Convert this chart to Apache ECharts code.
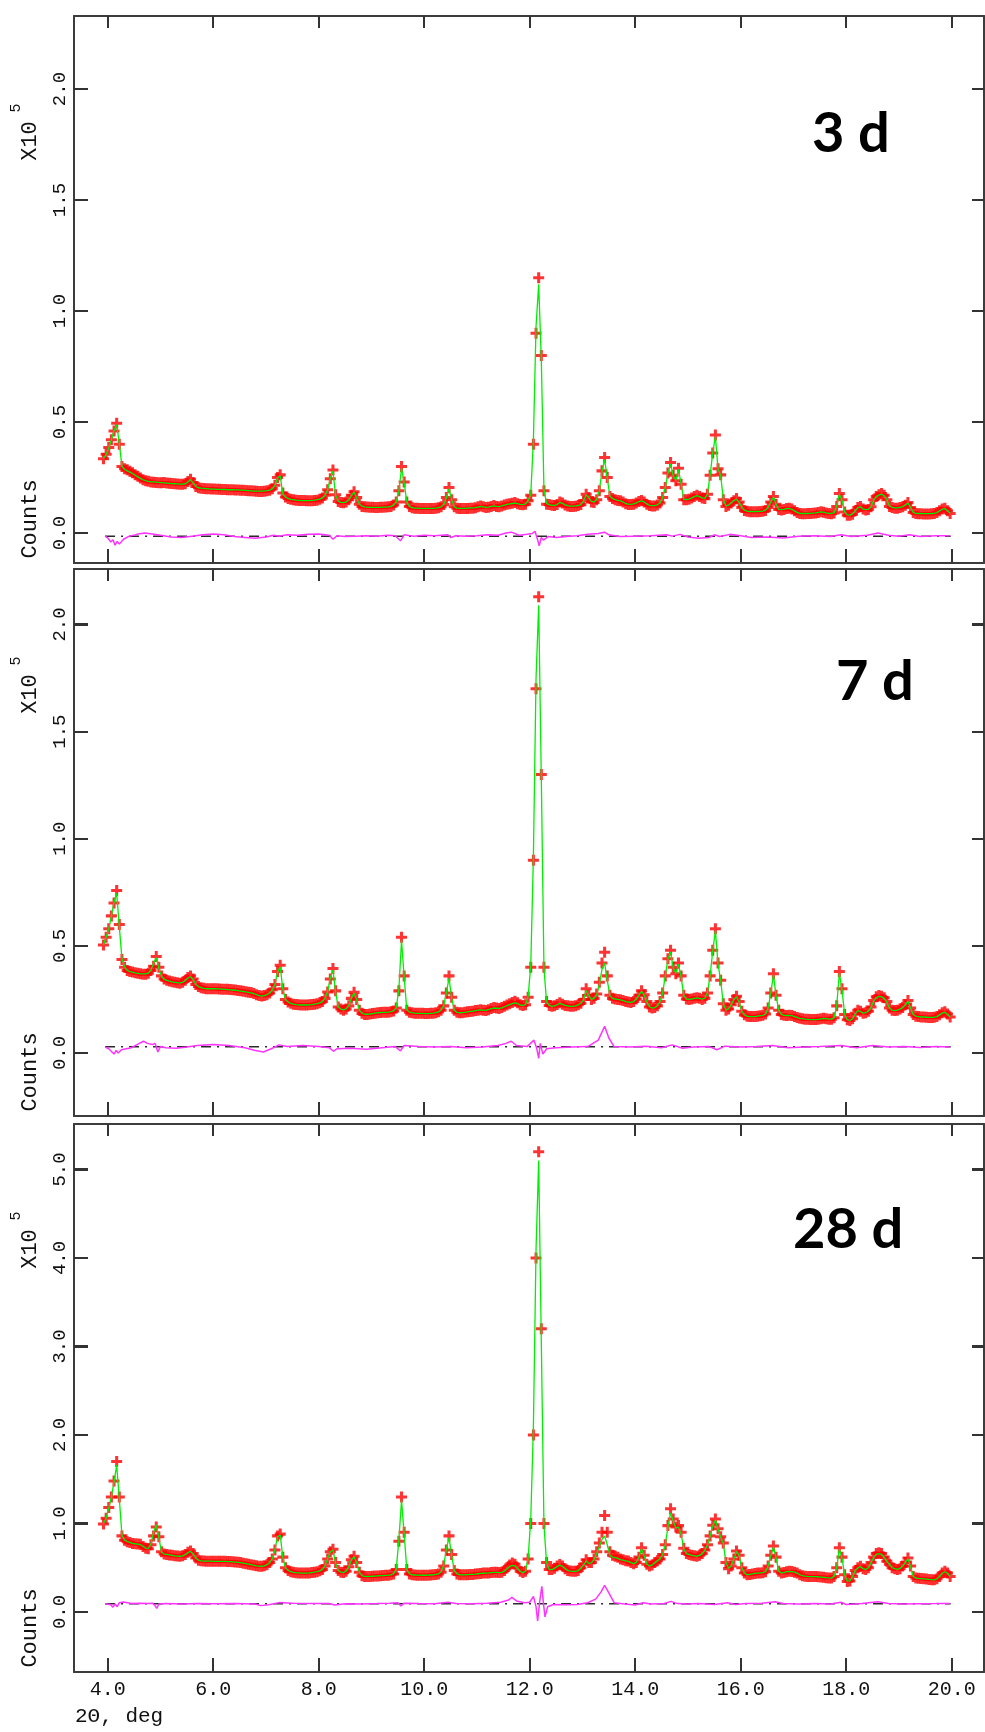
<!DOCTYPE html>
<html><head><meta charset="utf-8">
<script src="https://cdn.jsdelivr.net/npm/echarts@6/dist/echarts.min.js"></script>
<style>html,body{margin:0;padding:0;background:#fff}#c{width:985px;height:1732px}</style>
</head><body><div id="c"></div>
<script>
// 2-theta sampling positions (deg)
const twoTheta = [
3.92,3.97,4.02,4.07,4.12,4.17,4.22,4.27,4.32,4.37,
4.42,4.47,4.52,4.57,4.62,4.67,4.72,4.77,4.82,4.87,
4.92,4.97,5.02,5.07,5.12,5.17,5.22,5.27,5.32,5.37,
5.42,5.47,5.52,5.57,5.62,5.67,5.72,5.77,5.82,5.87,
5.92,5.97,6.02,6.07,6.12,6.17,6.22,6.27,6.32,6.37,
6.42,6.47,6.52,6.57,6.62,6.67,6.72,6.77,6.82,6.87,
6.92,6.97,7.02,7.07,7.12,7.17,7.22,7.27,7.32,7.37,
7.42,7.47,7.52,7.57,7.62,7.67,7.72,7.77,7.82,7.87,
7.92,7.97,8.02,8.07,8.12,8.17,8.22,8.27,8.32,8.37,
8.42,8.47,8.52,8.57,8.62,8.67,8.72,8.77,8.82,8.87,
8.92,8.97,9.02,9.07,9.12,9.17,9.22,9.27,9.32,9.37,
9.42,9.47,9.52,9.57,9.62,9.67,9.72,9.77,9.82,9.87,
9.92,9.97,10.02,10.07,10.12,10.17,10.22,10.27,10.32,10.37,
10.42,10.47,10.52,10.57,10.62,10.67,10.72,10.77,10.82,10.87,
10.92,10.97,11.02,11.07,11.12,11.17,11.22,11.27,11.32,11.37,
11.42,11.47,11.52,11.57,11.62,11.67,11.72,11.77,11.82,11.87,
11.92,11.97,12.02,12.07,12.12,12.17,12.22,12.27,12.32,12.37,
12.42,12.47,12.52,12.57,12.62,12.67,12.72,12.77,12.82,12.87,
12.92,12.97,13.02,13.07,13.12,13.17,13.22,13.27,13.32,13.37,
13.42,13.47,13.52,13.57,13.62,13.67,13.72,13.77,13.82,13.87,
13.92,13.97,14.02,14.07,14.12,14.17,14.22,14.27,14.32,14.37,
14.42,14.47,14.52,14.57,14.62,14.67,14.72,14.77,14.82,14.87,
14.92,14.97,15.02,15.07,15.12,15.17,15.22,15.27,15.32,15.37,
15.42,15.47,15.52,15.57,15.62,15.67,15.72,15.77,15.82,15.87,
15.92,15.97,16.02,16.07,16.12,16.17,16.22,16.27,16.32,16.37,
16.42,16.47,16.52,16.57,16.62,16.67,16.72,16.77,16.82,16.87,
16.92,16.97,17.02,17.07,17.12,17.17,17.22,17.27,17.32,17.37,
17.42,17.47,17.52,17.57,17.62,17.67,17.72,17.77,17.82,17.87,
17.92,17.97,18.02,18.07,18.12,18.17,18.22,18.27,18.32,18.37,
18.42,18.47,18.52,18.57,18.62,18.67,18.72,18.77,18.82,18.87,
18.92,18.97,19.02,19.07,19.12,19.17,19.22,19.27,19.32,19.37,
19.42,19.47,19.52,19.57,19.62,19.67,19.72,19.77,19.82,19.87,
19.92,19.97];

// Counts in units of 100 (axis shows x10^5)
const obs3d = [
335,355,385,420,460,495,400,300,290,285,
278,272,262,256,248,240,236,233,230,229,
228,227,226,228,225,224,223,222,221,220,
220,222,232,242,228,210,204,202,201,200,
199,198,198,197,197,196,196,195,195,195,
194,194,193,193,192,191,190,189,188,187,
187,188,190,193,200,215,250,262,180,162,
156,152,150,148,147,146,146,145,145,145,
146,148,152,158,170,195,245,284,172,142,
138,136,140,150,170,186,160,130,120,118,
117,116,116,115,115,116,116,117,118,120,
126,140,190,300,230,140,120,114,112,112,
111,111,110,110,110,111,112,114,118,128,
160,205,150,118,112,110,110,110,111,112,
112,114,118,122,118,115,116,120,124,120,
118,122,126,130,132,134,137,132,128,127,
130,145,170,400,900,1150,800,190,130,128,
125,124,128,140,135,126,122,120,120,121,
124,128,145,175,160,140,138,150,190,280,
340,250,165,155,150,147,145,140,132,129,
128,130,135,142,146,140,130,124,122,122,
126,135,160,205,270,318,260,236,292,220,
150,150,152,158,165,170,165,158,155,175,
260,360,442,290,262,150,120,125,135,145,
155,140,115,102,98,96,96,96,96,97,
98,102,115,140,165,130,106,104,106,110,
112,108,100,92,88,87,87,88,88,89,
90,92,96,94,90,88,87,90,120,178,
150,95,80,80,85,100,115,120,108,104,
106,118,150,165,172,178,170,150,120,115,
112,112,115,118,125,137,115,92,88,87,
87,86,86,86,87,88,92,100,108,112,
100,88];
const calc3d = [
336,354,384,420,462,488,405,300,286,280,
274,268,260,253,246,240,236,233,231,230,
229,228,227,226,225,224,223,222,221,220,
220,222,230,240,226,210,204,202,201,200,
199,198,198,197,197,196,196,195,195,195,
194,194,193,193,192,191,190,189,189,189,
189,190,191,193,199,214,248,258,176,162,
156,152,150,148,147,146,146,146,146,147,
148,150,153,158,170,196,246,280,170,144,
138,137,140,150,168,184,158,131,121,118,
117,116,116,116,116,116,117,117,118,120,
126,140,190,292,226,140,120,114,112,112,
111,111,111,111,111,111,112,114,118,128,
158,200,150,118,112,111,111,111,112,113,
113,114,117,120,118,116,117,120,122,120,
119,122,126,129,131,133,135,132,129,128,
131,146,175,420,930,1120,780,195,132,128,
125,125,128,138,134,127,123,121,121,122,
124,128,144,172,160,142,140,152,192,278,
330,248,166,156,150,147,145,140,133,130,
129,131,136,142,145,140,131,125,123,123,
127,136,160,205,268,312,258,238,288,222,
152,151,153,158,164,168,164,158,156,176,
262,362,435,288,260,152,122,126,136,146,
152,138,116,103,99,97,97,97,97,98,
99,103,116,140,162,130,107,105,107,110,
111,107,100,93,89,88,88,88,89,90,
91,93,95,94,91,89,88,91,122,174,
148,96,82,81,86,100,114,118,108,105,
107,118,148,164,171,175,168,150,122,116,
113,113,116,119,126,135,115,93,89,88,
88,87,87,87,88,89,92,100,107,110,
100,89];
const obs7d = [
504,540,580,640,700,758,600,436,400,385,
380,378,375,372,370,368,368,372,385,405,
450,400,360,345,340,336,332,330,328,326,
330,340,352,360,345,320,310,305,302,300,
300,300,300,300,299,298,298,297,296,295,
294,292,290,288,286,284,282,278,272,268,
266,268,272,280,295,320,380,410,300,250,
238,232,228,226,225,224,224,224,225,226,
228,230,234,240,255,285,345,394,290,215,
205,200,205,220,255,283,250,200,185,180,
180,182,184,186,188,189,190,190,190,192,
196,210,290,540,360,200,190,188,186,185,
185,185,184,184,185,186,188,192,200,220,
280,360,260,200,190,188,188,190,192,194,
195,198,200,202,200,198,202,208,212,210,
208,212,218,224,230,236,242,235,225,222,
225,260,400,900,1700,2130,1300,400,240,222,
218,220,226,234,228,222,220,218,218,220,
225,232,250,300,270,250,255,275,330,420,
470,360,270,255,252,250,248,245,240,238,
236,240,252,270,290,272,240,215,210,212,
220,240,280,360,440,480,400,370,420,360,
270,252,250,252,256,258,255,250,255,280,
360,480,580,420,340,230,200,205,225,250,
265,240,195,178,172,170,170,170,172,174,
176,182,210,280,370,270,200,180,176,175,
176,175,170,166,162,160,158,157,156,156,
156,157,160,162,160,158,158,165,220,380,
300,180,155,152,160,185,200,195,185,188,
195,215,245,262,268,265,258,240,210,200,
198,200,205,212,225,245,210,180,172,170,
168,168,167,166,166,167,170,178,188,192,
182,168];
const calc7d = [
505,540,580,638,705,745,590,440,402,386,
380,377,374,372,370,369,369,373,388,420,
445,395,358,344,339,335,332,330,328,327,
330,338,350,356,343,320,310,305,302,300,
300,300,300,299,299,298,297,296,295,294,
293,291,289,287,285,283,281,277,272,268,
266,268,272,280,294,320,378,402,298,250,
238,232,228,226,225,224,224,224,225,226,
228,230,234,240,256,288,350,388,285,215,
205,201,206,222,256,280,248,200,186,181,
181,182,184,186,188,189,190,190,191,193,
197,212,300,525,355,202,191,188,186,185,
185,185,184,184,185,186,188,192,201,222,
282,350,255,200,190,188,188,190,192,194,
195,198,200,201,200,199,202,207,210,209,
208,211,216,221,226,230,234,230,224,222,
226,262,410,920,1750,2090,1280,395,238,222,
218,220,225,232,227,222,220,218,218,220,
225,232,248,292,268,250,255,272,318,390,
420,340,268,255,252,250,248,245,240,238,
236,240,252,270,288,270,240,216,210,212,
220,240,280,360,438,472,398,372,415,355,
270,252,250,252,255,257,255,251,256,282,
362,478,570,415,338,230,201,206,226,250,
262,238,196,178,172,170,170,170,172,174,
176,182,210,280,365,268,200,180,176,175,
176,174,170,166,162,160,158,157,156,156,
156,157,159,161,160,158,158,165,222,372,
296,180,156,152,160,183,198,194,186,189,
195,213,242,258,264,262,255,238,210,200,
198,200,205,212,224,242,210,180,172,170,
168,168,167,166,166,167,170,178,186,190,
181,168];
const obs28d = [
995,1060,1180,1300,1480,1700,1300,860,810,795,
785,775,770,768,765,740,720,715,760,860,
960,850,680,655,650,645,640,635,632,630,
635,650,675,690,660,610,585,578,575,574,
574,574,574,573,573,572,572,571,570,568,
565,562,558,552,546,540,535,528,522,518,
517,522,535,560,600,700,860,880,620,500,
470,455,448,444,442,440,440,440,442,446,
450,455,465,480,520,600,680,708,560,470,
450,445,460,510,590,630,560,450,410,400,
400,402,404,406,408,410,412,414,416,420,
430,480,800,1300,900,480,430,420,418,416,
416,415,415,416,418,420,424,430,450,520,
700,860,650,470,430,420,420,420,422,424,
425,428,432,436,440,440,442,446,450,448,
446,450,470,500,530,555,540,500,460,445,
460,600,1000,2000,4000,5200,3200,1000,560,480,
480,495,520,536,520,490,470,462,460,460,
470,500,540,590,560,560,600,680,780,900,
1090,900,680,640,630,620,600,590,580,575,
560,545,560,620,727,640,540,520,530,560,
580,600,650,760,976,1167,1050,960,976,900,
720,660,650,640,635,630,640,660,700,760,
860,980,1050,940,850,780,560,490,520,600,
690,640,500,440,420,425,430,436,440,442,
444,455,520,640,746,620,460,440,445,455,
460,458,450,440,420,410,405,402,400,400,
400,398,395,392,388,385,383,400,500,727,
620,420,345,350,400,470,500,517,490,480,
500,560,620,660,670,660,620,574,540,500,
490,480,490,520,560,610,520,400,383,380,
378,375,372,368,365,364,375,400,440,460,
440,400];
const calc28d = [
1000,1060,1175,1300,1470,1660,1280,870,812,796,
786,776,771,768,762,742,722,718,770,900,
985,840,675,655,650,645,640,635,632,630,
634,648,670,684,656,610,586,578,575,574,
574,574,573,573,572,572,571,570,569,567,
564,561,557,552,546,540,534,528,522,518,
517,522,535,560,600,705,850,870,615,500,
470,455,448,444,442,440,440,440,442,446,
450,455,465,482,525,605,680,700,555,470,
450,446,462,512,588,625,555,450,412,402,
401,402,404,406,408,410,412,414,416,420,
432,485,820,1260,880,480,432,420,418,416,
416,415,415,416,418,420,424,432,455,528,
710,840,640,470,430,421,420,420,422,424,
425,428,432,436,438,440,442,445,448,447,
445,448,462,488,512,528,520,492,458,445,
462,610,1050,2100,4100,5100,3050,980,555,480,
478,492,515,530,516,488,470,462,460,460,
468,495,530,575,550,555,592,660,740,820,
860,760,640,620,615,605,592,585,578,572,
558,546,560,618,715,635,540,520,530,558,
578,600,650,760,960,1120,1030,950,960,880,
715,660,650,640,635,630,640,660,698,760,
855,975,1040,935,845,775,560,495,522,600,
684,636,500,442,421,425,430,436,440,442,
444,455,520,635,735,615,462,440,445,455,
460,457,450,440,421,410,405,402,400,400,
400,398,395,392,388,385,383,402,505,710,
610,422,348,352,402,468,498,512,490,480,
500,558,615,652,660,650,615,572,540,500,
490,482,492,522,560,600,515,402,384,380,
378,375,372,368,365,364,375,400,438,455,
438,400];

// difference curves (obs - calc, shown with an offset), [2theta, counts/100]
const diff3d = [[3.95,-14],[4.0,-22],[4.06,-40],[4.1,-30],[4.14,-55],[4.18,-38],[4.22,-50],[4.3,-28],[4.4,-15],[4.55,-6],[4.7,0],[4.85,-4],[5.0,-10],[5.2,-18],[5.4,-20],[5.6,-14],[5.8,-8],[6.0,-4],[6.2,-8],[6.4,-16],[6.6,-20],[6.8,-24],[7.0,-18],[7.15,-10],[7.25,-14],[7.4,-8],[7.6,-10],[7.8,-6],[8.0,-4],[8.2,-10],[8.27,-28],[8.35,-12],[8.5,-16],[8.7,-14],[8.9,-12],[9.1,-14],[9.3,-10],[9.45,-12],[9.55,-35],[9.62,-8],[9.8,-14],[10.0,-10],[10.2,-12],[10.45,-8],[10.5,-20],[10.6,-12],[10.8,-14],[11.0,-12],[11.2,-8],[11.4,-10],[11.55,0],[11.65,4],[11.8,-10],[11.95,-6],[12.05,-2],[12.1,8],[12.15,-30],[12.18,-58],[12.22,-20],[12.26,-32],[12.35,-16],[12.5,-20],[12.7,-16],[12.9,-12],[13.1,-6],[13.3,-2],[13.42,4],[13.5,-8],[13.7,-16],[14.0,-14],[14.3,-12],[14.6,-8],[14.7,-14],[14.85,-6],[15.0,-18],[15.2,-24],[15.4,-20],[15.5,-8],[15.6,-16],[15.8,-6],[16.0,-12],[16.2,-20],[16.5,-18],[16.8,-22],[17.1,-14],[17.4,-12],[17.7,-16],[17.9,-8],[18.1,-16],[18.4,-10],[18.6,0],[18.8,-10],[19.0,-14],[19.2,-8],[19.4,-16],[19.7,-12],[19.97,-12]];
const diff7d = [[3.95,28],[4.02,20],[4.08,5],[4.12,-5],[4.16,12],[4.2,0],[4.26,15],[4.35,20],[4.45,25],[4.6,45],[4.68,55],[4.75,45],[4.85,40],[4.9,45],[4.95,5],[5.0,30],[5.1,25],[5.3,22],[5.5,28],[5.7,35],[6.0,40],[6.3,35],[6.6,25],[6.8,12],[6.95,5],[7.1,20],[7.25,38],[7.4,30],[7.7,35],[8.0,30],[8.2,25],[8.28,8],[8.35,20],[8.6,22],[8.9,18],[9.2,25],[9.45,30],[9.55,10],[9.62,35],[9.9,30],[10.2,28],[10.5,30],[10.8,25],[11.1,28],[11.4,35],[11.55,45],[11.65,55],[11.75,35],[11.95,30],[12.08,60],[12.13,25],[12.17,-25],[12.2,45],[12.25,-5],[12.32,20],[12.5,25],[12.8,28],[13.1,30],[13.3,60],[13.42,125],[13.5,70],[13.6,30],[13.9,28],[14.2,32],[14.5,25],[14.7,38],[14.9,22],[15.1,28],[15.4,30],[15.55,15],[15.7,32],[16.0,28],[16.3,30],[16.6,35],[16.9,25],[17.2,28],[17.5,30],[17.9,35],[18.2,25],[18.5,35],[18.8,28],[19.1,30],[19.4,26],[19.7,30],[19.97,28]];
const diff28d = [[3.95,92],[4.05,85],[4.1,55],[4.14,90],[4.18,60],[4.22,105],[4.3,112],[4.45,95],[4.6,100],[4.75,95],[4.85,100],[4.9,70],[4.93,40],[4.97,90],[5.1,95],[5.4,90],[5.7,95],[6.0,92],[6.4,96],[6.8,90],[6.9,72],[7.05,82],[7.25,106],[7.5,100],[7.9,95],[8.2,97],[8.3,80],[8.5,93],[8.8,90],[9.1,95],[9.35,100],[9.5,105],[9.56,68],[9.62,100],[9.9,95],[10.2,93],[10.45,110],[10.6,95],[10.9,93],[11.2,100],[11.45,110],[11.6,135],[11.66,165],[11.75,125],[11.9,105],[12.0,110],[12.07,175],[12.12,60],[12.15,-100],[12.19,120],[12.23,290],[12.26,100],[12.29,-55],[12.34,60],[12.45,85],[12.7,82],[12.9,86],[13.1,105],[13.25,145],[13.35,225],[13.42,300],[13.5,215],[13.6,105],[13.8,90],[14.0,80],[14.15,105],[14.3,90],[14.55,95],[14.68,120],[14.8,95],[15.0,90],[15.2,95],[15.5,85],[15.75,105],[15.9,85],[16.1,95],[16.4,100],[16.65,115],[16.8,95],[17.1,90],[17.4,97],[17.7,90],[17.9,110],[18.0,85],[18.3,95],[18.6,115],[18.8,95],[19.1,90],[19.4,93],[19.7,95],[19.97,97]];
const diffZero = [-14, 29, 92];

const panelLabels = ['3 d', '7 d', '28 d'];
const xTickValues = [4, 6, 8, 10, 12, 14, 16, 18, 20];
const yTickValues = [[0, 500, 1000, 1500, 2000], [0, 500, 1000, 1500, 2000], [0, 1000, 2000, 3000, 4000, 5000]];
const xTitle = '2\u0398, deg';
const yTitle = 'Counts';
const yScaleText = 'X10';
const yScaleExp = '5';

// ---- layout ----
const panels = [
  {top: 16, height: 547, ymin: -135, ymax: 2329, obs: obs3d, calc: calc3d, diff: diff3d},
  {top: 569, height: 547, ymin: -294, ymax: 2259, obs: obs7d, calc: calc7d, diff: diff7d},
  {top: 1124, height: 548, ymin: -678, ymax: 5514, obs: obs28d, calc: calc28d, diff: diff28d}
];
const XMIN = 3.361, XMAX = 20.612;
const MONO = '"Liberation Mono", "DejaVu Sans Mono", monospace';
const plus = 'path://M2.9,0H5.1V2.9H8V5.1H5.1V8H2.9V5.1H0V2.9H2.9Z';

const grid = [], xAxis = [], yAxis = [], series = [];
const lineStyleAxis = {color: '#3c3c3c', width: 2};
const tickStyle = {color: '#333', width: 2};
panels.forEach((p, i) => {
  grid.push({left: 74, right: 1, top: p.top, height: p.height, show: false});
  const xB = 2 * i, yL = 2 * i;
  xAxis.push({gridIndex: i, type: 'value', min: XMIN, max: XMAX, position: 'bottom', z: 10,
    axisLine: {show: true, onZero: false, lineStyle: lineStyleAxis}, splitLine: {show: false},
    axisTick: {show: true, inside: true, length: 14, customValues: xTickValues, lineStyle: tickStyle},
    axisLabel: {show: i === 2, customValues: xTickValues, formatter: v => v.toFixed(1), margin: 8,
      color: '#111', fontFamily: MONO, fontSize: 20}});
  xAxis.push({gridIndex: i, type: 'value', min: XMIN, max: XMAX, position: 'top', z: 10,
    axisLine: {show: true, onZero: false, lineStyle: lineStyleAxis}, splitLine: {show: false},
    axisTick: {show: true, inside: true, length: 12, customValues: xTickValues, lineStyle: tickStyle},
    axisLabel: {show: false}});
  yAxis.push({gridIndex: i, type: 'value', min: p.ymin, max: p.ymax, position: 'left', z: 10,
    axisLine: {show: true, onZero: false, lineStyle: lineStyleAxis}, splitLine: {show: false},
    axisTick: {show: true, inside: true, length: 14, customValues: yTickValues[i], lineStyle: tickStyle},
    axisLabel: {show: true, customValues: yTickValues[i], rotate: 90, margin: 5,
      formatter: v => (v / 1000).toFixed(1), color: '#111', fontFamily: MONO, fontSize: 19}});
  yAxis.push({gridIndex: i, type: 'value', min: p.ymin, max: p.ymax, position: 'right', z: 10,
    axisLine: {show: true, onZero: false, lineStyle: lineStyleAxis}, splitLine: {show: false},
    axisTick: {show: true, inside: true, length: 12, customValues: yTickValues[i], lineStyle: tickStyle},
    axisLabel: {show: false}});

  series.push({type: 'line', xAxisIndex: xB, yAxisIndex: yL, data: [[3.95, diffZero[i]], [19.98, diffZero[i]]],
    showSymbol: false, silent: true, lineStyle: {color: '#2a2a2a', width: 1.5, type: [10, 6, 2, 6]}, z: 2});
  series.push({type: 'line', xAxisIndex: xB, yAxisIndex: yL, data: p.diff,
    showSymbol: false, silent: true, lineStyle: {color: '#ff33ff', width: 1.5}, z: 3});
  series.push({type: 'scatter', xAxisIndex: xB, yAxisIndex: yL, data: twoTheta.map((x, k) => [x, p.obs[k]]),
    symbol: plus, symbolSize: [11, 11], itemStyle: {color: '#ff0000'}, silent: true, z: 4});
  series.push({type: 'line', xAxisIndex: xB, yAxisIndex: yL, data: twoTheta.map((x, k) => [x, p.calc[k]]),
    showSymbol: false, silent: true, lineStyle: {color: '#00ee00', width: 1.3}, z: 5});
});

const chart = echarts.init(document.getElementById('c'), null, {renderer: 'canvas'});
chart.setOption({animation: false, backgroundColor: '#fff', grid, xAxis, yAxis, series});

// texts and inside tick marks (tick positions converted through each panel's axis scales)
const graphic = [];
const tickLine = (x1, y1, x2, y2) => ({type: 'line', z: 200, silent: true,
  shape: {x1, y1, x2, y2}, style: {stroke: '#333', lineWidth: 2}});
panels.forEach((p, i) => {
  const finder = {xAxisIndex: 2 * i, yAxisIndex: 2 * i};
  const yb = chart.convertToPixel(finder, [XMIN, p.ymin])[1];
  const yt = chart.convertToPixel(finder, [XMIN, p.ymax])[1];
  const xl = chart.convertToPixel(finder, [XMIN, p.ymin])[0];
  const xr = chart.convertToPixel(finder, [XMAX, p.ymin])[0];
  xTickValues.forEach(v => {
    const x = Math.round(chart.convertToPixel(finder, [v, p.ymin])[0]);
    graphic.push(tickLine(x, yb, x, yb - 14));
    graphic.push(tickLine(x, yt, x, yt + 12));
  });
  yTickValues[i].forEach(v => {
    const y = Math.round(chart.convertToPixel(finder, [XMIN, v])[1]);
    graphic.push(tickLine(xl, y, xl + 14, y));
    graphic.push(tickLine(xr, y, xr - 12, y));
  });
  const bottom = p.top + p.height;
  graphic.push({type: 'text', x: 30, y: bottom - 44, rotation: Math.PI / 2,
    style: {text: yTitle, font: '22px ' + MONO, fill: '#111', textAlign: 'center', textVerticalAlign: 'middle', align: 'center', verticalAlign: 'middle'}});
  graphic.push({type: 'text', x: 30, y: p.top + 125, rotation: Math.PI / 2,
    style: {text: yScaleText, font: '22px ' + MONO, fill: '#111', textAlign: 'center', textVerticalAlign: 'middle', align: 'center', verticalAlign: 'middle'}});
  graphic.push({type: 'text', x: 16, y: p.top + 92, rotation: Math.PI / 2,
    style: {text: yScaleExp, font: '15px ' + MONO, fill: '#111', textAlign: 'center', textVerticalAlign: 'middle', align: 'center', verticalAlign: 'middle'}});
});
const labelPos = [[812, 106], [836, 654], [793, 1202]];
panelLabels.forEach((t, i) => {
  graphic.push({type: 'text', x: labelPos[i][0], y: labelPos[i][1], z: 100,
    style: {text: t, font: 'bold 56px Lato, "Open Sans", sans-serif', fill: '#000'}});
});
graphic.push({type: 'text', x: 75, y: 1706, style: {text: xTitle, font: '21px ' + MONO, fill: '#111'}});
chart.setOption({graphic});
</script>
</body></html>
